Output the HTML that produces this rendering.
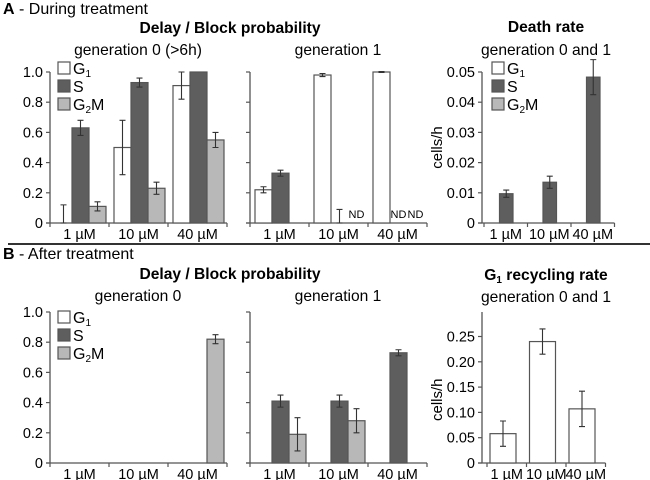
<!DOCTYPE html>
<html><head><meta charset="utf-8"><style>
html,body{margin:0;padding:0;background:#fff}
svg{display:block;font-family:"Liberation Sans",sans-serif}
</style></head><body>
<svg id="fig" width="650" height="480" viewBox="0 0 650 480">
<g>
<text x="3" y="14" font-size="16"><tspan font-weight="bold">A</tspan> - During treatment</text>
<text x="230" y="33" font-size="15.6" font-weight="bold" text-anchor="middle">Delay / Block probability</text>
<text x="138" y="55" font-size="15.6" text-anchor="middle">generation 0 (&gt;6h)</text>
<text x="338" y="55" font-size="15.6" text-anchor="middle">generation 1</text>
<text x="546" y="32" font-size="15.6" font-weight="bold" text-anchor="middle">Death rate</text>
<text x="546" y="55" font-size="15.6" text-anchor="middle">generation 0 and 1</text>
</g>
<line x1="8" y1="244" x2="650" y2="244" stroke="#333" stroke-width="2"/>
<g>
<text x="3" y="259" font-size="16"><tspan font-weight="bold">B</tspan> - After treatment</text>
<text x="230" y="279" font-size="15.6" font-weight="bold" text-anchor="middle">Delay / Block probability</text>
<text x="138" y="301" font-size="15.6" text-anchor="middle">generation 0</text>
<text x="338" y="301" font-size="15.6" text-anchor="middle">generation 1</text>
<text x="546" y="280" font-size="15.6" font-weight="bold" text-anchor="middle">G<tspan font-size="10" dy="3">1</tspan><tspan dy="-3"> recycling rate</tspan></text>
<text x="546" y="302" font-size="15.6" text-anchor="middle">generation 0 and 1</text>
</g>
</svg>
<script>
const categories = ["1 \u00b5M","10 \u00b5M","40 \u00b5M"];
const series = ["G1","S","G2M"];
// Panel A gen 0
const aGen0G1 = [0, 0.50, 0.91];
const aGen0G1Err = [0.12, 0.18, 0.09];
const aGen0S = [0.63, 0.93, 1.0];
const aGen0SErr = [0.05, 0.03, 0];
const aGen0G2M = [0.11, 0.23, 0.55];
const aGen0G2MErr = [0.03, 0.04, 0.05];
// Panel A gen 1 (null = ND)
const aGen1G1 = [0.22, 0.98, 1.0];
const aGen1G1Err = [0.02, 0.01, 0.003];
const aGen1S = [0.33, 0, null];
const aGen1SErr = [0.02, 0.09, 0];
const aGen1G2M = [0, null, null];
const aGen1G2MErr = [0, 0, 0];
// Death rate
const deathS = [0.0097, 0.0135, 0.0483];
const deathSErr = [0.0012, 0.002, 0.0058];
// Panel B gen 0
const bGen0G1 = [0, 0, 0];
const bGen0S = [0, 0, 0];
const bGen0G2M = [0, 0, 0.82];
const bGen0G2MErr = [0, 0, 0.03];
// Panel B gen 1
const bGen1G1 = [0, 0, 0];
const bGen1S = [0.41, 0.41, 0.73];
const bGen1SErr = [0.04, 0.04, 0.02];
const bGen1G2M = [0.19, 0.28, 0];
const bGen1G2MErr = [0.11, 0.08, 0];
// Recycling
const recycle = [0.058, 0.24, 0.107];
const recycleErr = [0.025, 0.025, 0.035];
const probTicks = ["0","0.2","0.4","0.6","0.8","1.0"];
const deathTicks = ["0","0.01","0.02","0.03","0.04","0.05"];
const recTicks = ["0","0.05","0.10","0.15","0.20","0.25"];

const NS="http://www.w3.org/2000/svg";
const svg=document.getElementById('fig');
const fills={G1:"#ffffff",S:"#5e5e5e",G2M:"#b8b8b8"};
function el(tag,attrs,parent){const e=document.createElementNS(NS,tag);for(const k in attrs)e.setAttribute(k,attrs[k]);(parent||svg).appendChild(e);return e;}

function chart(cfg){
  const g=el('g',{});
  
  
  const y=v=>cfg.y0-(v/cfg.ymax)*cfg.h;
  const catX=i=>cfg.x0+cfg.catStart+i*cfg.catW;
  const ax=el('line',{x1:cfg.x0,y1:cfg.y0,x2:cfg.x0,y2:cfg.y0-cfg.axisH,stroke:"#555","stroke-width":1.3},g);
  
  
  const xEnd=catX(categories.length);
  const xa=el('line',{x1:cfg.x0-4,y1:cfg.y0,x2:xEnd,y2:cfg.y0,stroke:"#555","stroke-width":1.3},g);
  
  
  cfg.ticks.forEach((t,i)=>{
    const v=i*cfg.tickStep, yy=y(v);
    el('line',{x1:cfg.x0-4,y1:yy,x2:cfg.x0,y2:yy,stroke:"#555","stroke-width":1.2},g);
    if(cfg.showTickLabels){
      const tx=el('text',{x:cfg.x0-7,y:yy+5,"font-size":14.5,"text-anchor":"end"},g);
      tx.textContent=t;
      
      
    }
  });
  for(let i=0;i<=categories.length;i++){
    const xx=catX(i);
    el('line',{x1:xx,y1:cfg.y0,x2:xx,y2:cfg.y0+4,stroke:"#555","stroke-width":1.2},g);
  }
  categories.forEach((c,i)=>{
    const tx=el('text',{x:catX(i)+cfg.catW/2,y:cfg.y0+16,"font-size":14.5,"text-anchor":"middle"},g);
    tx.textContent=c;
    
    
  });
  cfg.series.forEach((s,si)=>{
    s.vals.forEach((v,i)=>{
      const bx=catX(i)+cfg.barOff+si*cfg.barW;
      if(v===null){
        const t=el('text',{x:bx+cfg.barW/2,y:cfg.y0-5,"font-size":11,"text-anchor":"middle"},g);
        t.textContent="ND";
        
        
        return;
      }
      if(v>0){
        const r=el('rect',{x:bx,y:y(v),width:cfg.barW,height:cfg.y0-y(v),fill:fills[s.key],stroke:"#555","stroke-width":1.2},g);
        
        
      }
      const e=s.err?s.err[i]:0;
      if(e>0){
        const cx=bx+cfg.barW/2, lo=Math.max(0,v-e), hi=v+e;
        const eb=el('path',{d:`M${cx},${y(lo)}V${y(hi)}M${cx-3},${y(lo)}H${cx+3}M${cx-3},${y(hi)}H${cx+3}`,stroke:"#333","stroke-width":1.1,fill:"none"},g);
        
        
      }
    });
  });
  if(cfg.ylabel){
    const t=el('text',{x:0,y:0,"font-size":15,"text-anchor":"middle",transform:`translate(${cfg.x0-40},${cfg.y0-cfg.h*0.5}) rotate(-90)`},g);
    t.textContent=cfg.ylabel;
    
    
  }
  if(cfg.legend){
    const lx=cfg.legend[0], ly=cfg.legend[1];
    series.forEach((k,i)=>{
      const yy=ly+i*18;
      const r=el('rect',{x:lx,y:yy,width:12,height:12,fill:fills[k],stroke:"#555","stroke-width":1.2},g);
      
      
      const t=el('text',{x:lx+15,y:yy+12,"font-size":16},g);
      
      
      if(k==="S") t.textContent="S";
      else { t.textContent="G"; const sp=el('tspan',{"font-size":10,dy:3},t); sp.textContent=k==="G1"?"1":"2"; if(k==="G2M"){const m=el('tspan',{dy:-3},t); m.textContent="M";} }
    });
  }
}
const prob={ymax:1,h:151,tickStep:0.2,ticks:probTicks,catW:59,catStart:0,barW:17,barOff:5,showTickLabels:true};
chart(Object.assign({},prob,{name:'chart-a-gen0',x0:50,y0:223,axisH:151,legend:[58,62],
  series:[{key:"G1",vals:aGen0G1,err:aGen0G1Err},{key:"S",vals:aGen0S,err:aGen0SErr},{key:"G2M",vals:aGen0G2M,err:aGen0G2MErr}]}));
chart(Object.assign({},prob,{name:'chart-a-gen1',x0:250,y0:223,axisH:151,barOff:5,showTickLabels:false,
  series:[{key:"G1",vals:aGen1G1,err:aGen1G1Err},{key:"S",vals:aGen1S,err:aGen1SErr},{key:"G2M",vals:aGen1G2M,err:aGen1G2MErr}]}));
chart({name:'chart-death-rate',x0:482,y0:223,axisH:151,ymax:0.05,h:151,tickStep:0.01,ticks:deathTicks,catW:43.5,catStart:2,barW:13.5,barOff:2,showTickLabels:true,ylabel:"cells/h",legend:[492,62],
  series:[{key:"G1",vals:[0,0,0]},{key:"S",vals:deathS,err:deathSErr},{key:"G2M",vals:[0,0,0]}]});
chart(Object.assign({},prob,{name:'chart-b-gen0',x0:50,y0:463,axisH:151,legend:[58,311],
  series:[{key:"G1",vals:bGen0G1},{key:"S",vals:bGen0S},{key:"G2M",vals:bGen0G2M,err:bGen0G2MErr}]}));
chart(Object.assign({},prob,{name:'chart-b-gen1',x0:250,y0:463,axisH:151,showTickLabels:false,
  series:[{key:"G1",vals:bGen1G1},{key:"S",vals:bGen1S,err:bGen1SErr},{key:"G2M",vals:bGen1G2M,err:bGen1G2MErr}]}));
chart({name:'chart-recycling-rate',x0:482,y0:463,axisH:151,ymax:0.25,h:126.5,tickStep:0.05,ticks:recTicks,catW:39.5,catStart:5,barW:26,barOff:3,showTickLabels:true,ylabel:"cells/h",
  series:[{key:"G1",vals:recycle,err:recycleErr}]});
</script>
</body></html>
